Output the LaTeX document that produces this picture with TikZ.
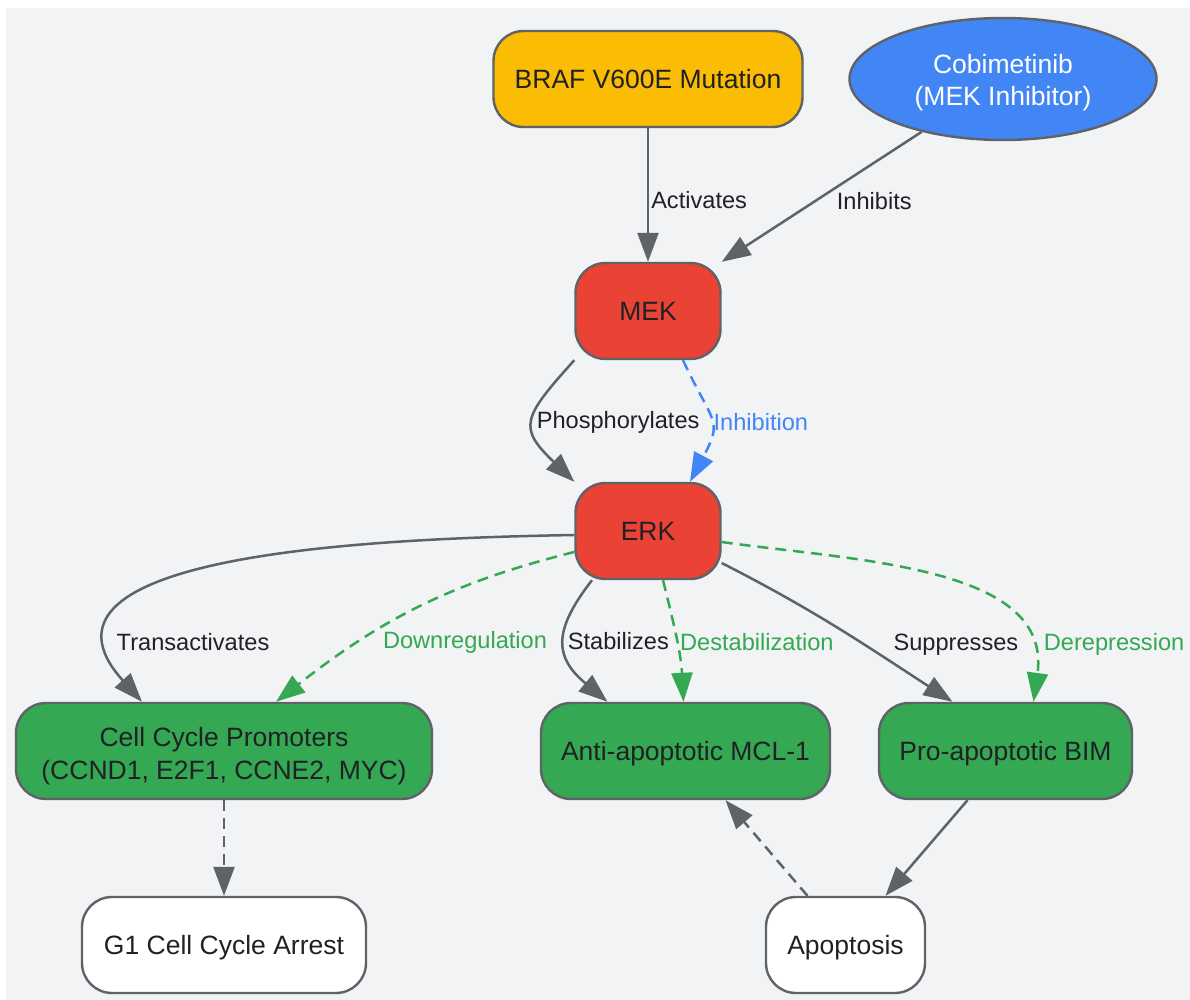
\documentclass[tikz,border=0pt]{standalone}
\usepackage{fontspec}
\setmainfont{Liberation Sans}
\usetikzlibrary{arrows.meta,shapes.geometric}
\definecolor{bggray}{HTML}{F1F3F4}
\definecolor{brafyellow}{HTML}{FBBC04}
\definecolor{drugblue}{HTML}{4285F4}
\definecolor{kinasered}{HTML}{EA4335}
\definecolor{genegreen}{HTML}{34A853}
\definecolor{edgegray}{HTML}{5F6368}
\definecolor{textdark}{HTML}{202124}
\begin{document}
\begin{tikzpicture}[x=0.5pt, y=0.5pt,
		box/.style={draw=edgegray, line width=1.2pt, rounded corners=15pt, minimum height=48pt, inner sep=0pt, align=center, text=textdark, font=\fontsize{13.25}{16.5}\selectfont},
		oneline/.style={text height=9.6pt, text depth=0pt},
		lbl/.style={inner sep=1pt, text=textdark, font=\fontsize{11.8}{14}\selectfont},
		link/.style={color=edgegray, line width=1.25pt, -{Triangle[length=14.5pt,width=10.5pt]}},
		dashlink/.style={link, dash pattern=on 5.5pt off 3.5pt}]
			\useasboundingbox (0,0) rectangle (1190,-1000);
			\fill[bggray] (6,-8) rectangle (1190,-1000);
			\node[box, oneline, fill=brafyellow, minimum width=154.5pt] (braf) at (648,-79) {BRAF V600E Mutation};
			\node[ellipse, draw=edgegray, line width=1.2pt, fill=drugblue, text=white, minimum width=153.5pt, minimum height=61pt, inner sep=0pt, align=center, font=\fontsize{13.25}{16}\selectfont] (cobi) at (1003,-79) {\rule{0pt}{13.3pt}Cobimetinib\\(MEK Inhibitor)};
			\node[box, oneline, fill=kinasered, minimum width=72.5pt] (mek) at (648,-311) {MEK};
			\node[box, oneline, fill=kinasered, minimum width=72.5pt] (erk) at (648,-531) {ERK};
			\node[box, fill=genegreen, minimum width=208pt] (ccp) at (224,-751) {\rule{0pt}{14.8pt}Cell Cycle Promoters\\(CCND1, E2F1, CCNE2, MYC)};
			\node[box, oneline, fill=genegreen, minimum width=144.5pt] (mcl) at (685.5,-751) {Anti-apoptotic MCL-1};
			\node[box, oneline, fill=genegreen, minimum width=126.5pt] (bim) at (1005.5,-751) {Pro-apoptotic BIM};
			\node[box, oneline, fill=white, minimum width=142pt] (g1) at (224,-945) {G1 Cell Cycle Arrest};
			\node[box, oneline, fill=white, minimum width=79.5pt] (apo) at (845.5,-945) {Apoptosis};
			\draw[link] (braf) -- (mek) node[pos=0.54, right, lbl] {Activates};
			\draw[link] (cobi) -- (mek.north east) node[pos=0.53, right=9pt, lbl] {Inhibits};
			\draw[link] (mek.south west) to[out=228, in=136, looseness=1.65] node[right, lbl] {Phosphorylates} (erk.north west);
			\draw[dashlink, color=drugblue] ([xshift=17.5pt]mek.south) to[out=-65, in=62, looseness=1.5] node[right, lbl, text=drugblue] {Inhibition} ([xshift=21pt]erk.north);
			\draw[link] ([yshift=-2pt]erk.west) to[out=181, in=132, looseness=1.1] node[pos=0.845, right, lbl] {Transactivates} ([xshift=-41pt]ccp.north);
			\draw[dashlink, color=genegreen] ([yshift=-10.5pt]erk.west) to[out=194, in=38] node[pos=0.715, right=11pt, lbl, text=genegreen] {Downregulation} ([xshift=26pt]ccp.north);
			\draw[link] ([xshift=-28pt]erk.south) to[out=232, in=140, looseness=1.4] node[pos=0.47, right, lbl] {Stabilizes} ([xshift=-39pt]mcl.north);
			\draw[dashlink, color=genegreen] ([xshift=7.5pt]erk.south) to[out=-76, in=93] node[pos=0.51, right, lbl, text=genegreen] {Destabilization} ([xshift=-1pt]mcl.north);
			\draw[link] ([yshift=-16pt]erk.east) to[out=-27, in=147] node[pos=0.62, right=13pt, lbl] {Suppresses} ([xshift=-26.5pt]bim.north);
			\draw[dashlink, color=genegreen] ([yshift=-5.5pt]erk.east) to[out=-8, in=82] node[pos=0.835, right=7pt, lbl, text=genegreen] {Derepression} ([xshift=14pt]bim.north);
			\draw[dashlink] (ccp) -- (g1);
			\draw[dashlink] ([xshift=-19pt]apo.north) -- ([xshift=20pt]mcl.south);
			\draw[link] ([xshift=-19pt]bim.south) -- ([xshift=20pt]apo.north);
		\end{tikzpicture}
\end{document}
